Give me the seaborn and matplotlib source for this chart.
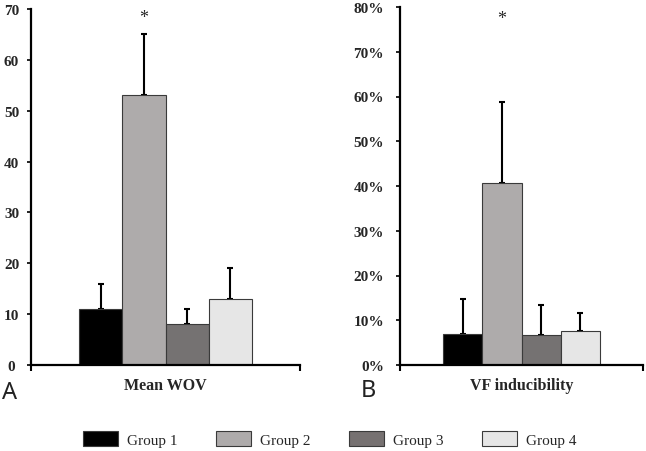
import numpy as np
import pandas as pd
import matplotlib
matplotlib.use("Agg")
import matplotlib.pyplot as plt
import seaborn as sns
from matplotlib.ticker import PercentFormatter
from matplotlib.patches import Patch

groups = ["Group 1", "Group 2", "Group 3", "Group 4"]
colors = ["#000000", "#aeabab", "#767171", "#e6e6e6"]

wov_mean = [11, 53, 8, 13]
wov_err = [5, 12, 3, 6]

vf_mean = [0.070, 0.406, 0.068, 0.077]
vf_err = [0.078, 0.181, 0.066, 0.040]

sns.set_theme(style="white")
plt.rcParams["font.family"] = ["Liberation Serif", "DejaVu Serif"]

fig = plt.figure(figsize=(6.46, 4.52), dpi=100)
ax_a = fig.add_axes([31 / 646, 86 / 452, 269 / 646, 356 / 452])
ax_b = fig.add_axes([400 / 646, 86 / 452, 243 / 646, 358 / 452])


def draw_panel(ax, metric, means, errs, ymax, star_y):
    df = pd.DataFrame({"metric": metric, "group": groups, "value": means})
    sns.barplot(
        data=df, x="metric", y="value", hue="group", hue_order=groups,
        palette=colors, width=0.8, legend=False, ax=ax,
        edgecolor="#3a3a3a", linewidth=0.8, errorbar=None,
    )
    bars = ax.patches[:len(groups)]
    xs = [b.get_x() + b.get_width() / 2 for b in bars]
    ax.errorbar(
        xs, means, yerr=[np.zeros(len(errs)), errs], fmt="none",
        ecolor="black", elinewidth=1.5, capsize=2.5, capthick=1.5, zorder=1,
    )
    for b in bars:
        b.set_zorder(2)
    ax.text(xs[1], star_y, "*", ha="center", va="center", fontsize=13)
    ax.set_xlim(-0.622, 0.622)
    ax.set_ylim(0, ymax)
    ax.set_xlabel("")
    ax.set_ylabel("")
    ax.set_xticks([0])
    ax.set_xticklabels([metric], fontsize=11.5, fontweight="bold")
    ax.tick_params(axis="x", length=0, pad=9)
    ax.set_xticks([-0.622, 0.622], minor=True)
    ax.tick_params(axis="x", which="minor", length=4, width=1.5,
                   direction="out", bottom=True, color="black")
    ax.tick_params(axis="y", length=3, width=1.2, direction="out",
                   left=True, color="black", labelsize=11)
    sns.despine(ax=ax)
    for side in ("left", "bottom"):
        ax.spines[side].set_color("black")
        ax.spines[side].set_linewidth(1.6)


draw_panel(ax_a, "Mean WOV", wov_mean, wov_err, 70, 68.3)
ax_a.set_yticks(np.arange(0, 71, 10))
ax_a.tick_params(axis="y", pad=11)
for lbl in ax_a.get_yticklabels():
    lbl.set_fontweight("bold")
    lbl.set_horizontalalignment("center")

draw_panel(ax_b, "VF inducibility", vf_mean, vf_err, 0.8, 0.775)
ax_b.set_yticks(np.arange(0, 0.81, 0.1))
ax_b.yaxis.set_major_formatter(PercentFormatter(1.0, decimals=0))
ax_b.tick_params(axis="y", pad=8.5)
for lbl in ax_b.get_yticklabels():
    lbl.set_fontweight("bold")

fig.text(2 / 646, 1 - 393 / 452, "A", fontsize=17, family="Noto Sans",
         fontweight="light", va="center", ha="left", color="#222222")
fig.text(361 / 646, 1 - 391 / 452, "B", fontsize=17, family="Noto Sans",
         fontweight="light", va="center", ha="left", color="#222222")

handles = [Patch(facecolor=c, edgecolor="#3a3a3a", linewidth=0.8) for c in colors]
fig.legend(
    handles, groups, loc="center", bbox_to_anchor=(330 / 646, 1 - 440 / 452),
    ncol=4, frameon=False, fontsize=11, handlelength=2.3, handleheight=1.1,
    handletextpad=0.6, columnspacing=2.5,
)

fig.savefig("out.png", dpi=100)
